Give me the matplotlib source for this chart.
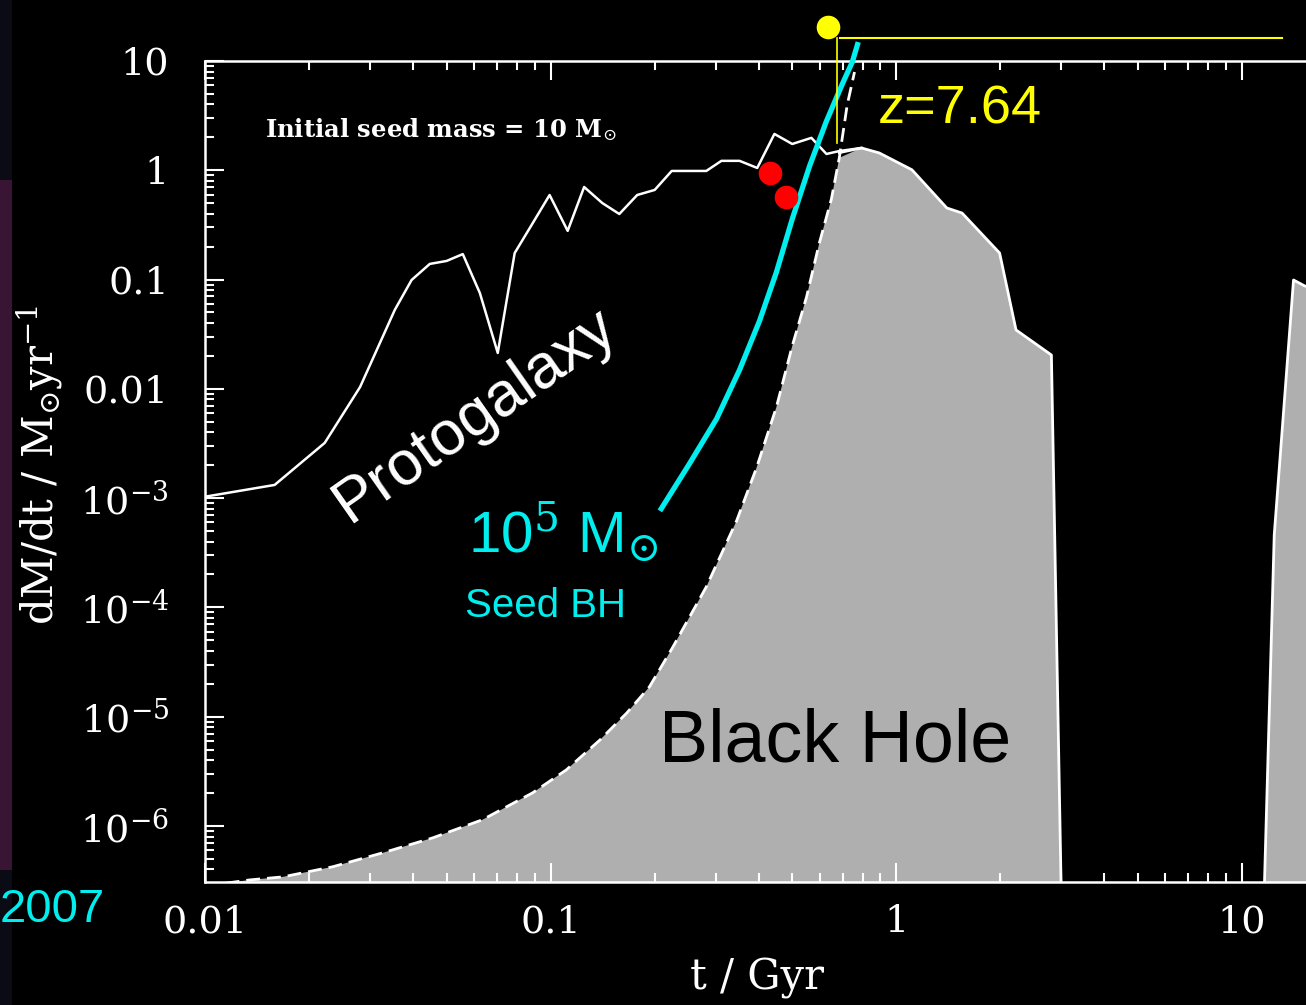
import numpy as np
import matplotlib.pyplot as plt
from matplotlib.ticker import FixedLocator, FixedFormatter, LogLocator, NullFormatter
from matplotlib.patches import Rectangle

plt.rcParams['mathtext.fontset'] = 'dejavuserif'

# protogalaxy accretion rate (white line), t in Gyr, rate in Msun/yr
gal_t = [0.0100, 0.0159, 0.0222, 0.0281, 0.0354, 0.0396, 0.0447, 0.0500, 0.0557, 0.0624,
         0.0703, 0.0787, 0.0881, 0.0993, 0.112, 0.125, 0.141, 0.158, 0.178, 0.200,
         0.224, 0.282, 0.312, 0.352, 0.396, 0.444, 0.500, 0.568, 0.628, 0.684, 0.793]
gal_rate = [1.03e-3, 1.32e-3, 3.20e-3, 0.0104, 0.0527, 0.0991, 0.139, 0.148, 0.171, 0.0753,
            0.0213, 0.175, 0.316, 0.594, 0.279, 0.703, 0.502, 0.398, 0.594, 0.661,
            0.986, 0.986, 1.22, 1.22, 1.05, 2.15, 1.74, 1.98, 1.41, 1.50, 1.60]

# Eddington-limited growth (dashed)
edd_t = [0.0100, 0.0135, 0.0168, 0.0234, 0.0327, 0.0456, 0.0635, 0.0887, 0.111, 0.139,
         0.166, 0.193, 0.225, 0.282, 0.345, 0.394, 0.450, 0.500, 0.550, 0.598,
         0.649, 0.684, 0.721, 0.757]
edd_rate = [2.82e-7, 3.21e-7, 3.42e-7, 4.23e-7, 5.68e-7, 7.78e-7, 1.14e-6, 2.01e-6, 3.26e-6, 6.14e-6,
            1.08e-5, 1.87e-5, 4.26e-5, 1.54e-4, 6.18e-4, 1.89e-3, 6.82e-3, 0.0247, 0.0693, 0.212,
            0.546, 1.30, 3.96, 7.93]

# black hole accretion rate after the Eddington phase (solid outline)
bh_t = [0.684, 0.793, 0.893, 1.11, 1.40, 1.55, 1.99, 2.22, 2.81, 3.00,
        11.6, 12.4, 14.1, 15.2, 20.0]
bh_rate = [1.45, 1.60, 1.44, 1.01, 0.452, 0.406, 0.175, 0.0346, 0.0204, 2.5e-7,
           2.5e-7, 4.60e-4, 0.0991, 0.0873, 0.070]

# 1e5 Msun seed BH track (cyan)
seed_t = [0.207, 0.252, 0.302, 0.352, 0.402, 0.450, 0.500, 0.561, 0.628, 0.698, 0.746, 0.776]
seed_rate = [7.64e-4, 2.06e-3, 5.31e-3, 0.0149, 0.0418, 0.117, 0.358, 1.09, 2.82, 6.16, 9.80, 14.9]

quasar_t = [0.430, 0.481]
quasar_rate = [0.945, 0.570]

z_t = 0.675
z_top = 16.2
z_bottom = 1.78
z_end = 13.1
dot_t, dot_rate = 0.633, 20.5

yticks = [1e-6, 1e-5, 1e-4, 1e-3, 0.01, 0.1, 1, 10]
ylabels = [r'$\mathregular{10^{-6}}$', r'$\mathregular{10^{-5}}$', r'$\mathregular{10^{-4}}$',
           r'$\mathregular{10^{-3}}$', '0.01', '0.1', '1', '10']
xticks = [0.01, 0.1, 1, 10]
xlabels = ['0.01', '0.1', '1', '10']

W, H = 1306, 1005


def fpos(x, y):
    return x / W, 1 - y / H


fig = plt.figure(figsize=(W / 100, H / 100), dpi=100, facecolor='black')

# strip of background picture on the left edge
fig.patches.append(Rectangle((0, 0), 12 / W, 1, transform=fig.transFigure,
                             facecolor='#0b0b16', edgecolor='none', zorder=0))
fig.patches.append(Rectangle((0, 1 - 870 / H), 12 / W, 690 / H, transform=fig.transFigure,
                             facecolor='#3a1433', edgecolor='none', zorder=0))

ax = fig.add_axes([205 / W, 1 - 882 / H, 1141 / W, 821 / H])
ax.set_facecolor('black')
ax.set_xscale('log')
ax.set_yscale('log')
ax.set_xlim(0.01, 20)
ax.set_ylim(3.07e-7, 10)

fill_t = np.concatenate([edd_t[:-2], bh_t[1:]])
fill_r = np.concatenate([edd_rate[:-2], bh_rate[1:]])
ax.fill_between(fill_t, fill_r, 1e-10, color='#afafaf', lw=0, zorder=1)

ax.plot(edd_t, edd_rate, color='white', lw=2.0, dashes=(5, 2.5), zorder=3)
ax.plot(bh_t, bh_rate, color='white', lw=2.0, zorder=3)
ax.plot(gal_t, gal_rate, color='white', lw=1.8, zorder=3)
ax.plot(seed_t, seed_rate, color='#00eeee', lw=3.8, zorder=4, clip_on=False,
        solid_capstyle='butt')
ax.plot(quasar_t, quasar_rate, 'o', color='red', ms=17, mec='none', zorder=5)

ax.plot([z_t, z_t], [z_bottom, z_top], color='yellow', lw=1.2, zorder=5, clip_on=False)
ax.plot([z_t * 1.015, z_end], [z_top, z_top], color='yellow', lw=1.5, zorder=5, clip_on=False)
ax.plot([dot_t], [dot_rate], 'o', color='yellow', ms=17, mec='none', zorder=5, clip_on=False)

for s in ax.spines.values():
    s.set_color('white')
    s.set_linewidth(1.8)

ax.xaxis.set_major_locator(FixedLocator(xticks))
ax.xaxis.set_major_formatter(FixedFormatter(xlabels))
ax.yaxis.set_major_locator(FixedLocator(yticks))
ax.yaxis.set_major_formatter(FixedFormatter(ylabels))
ax.xaxis.set_minor_locator(LogLocator(base=10, subs=np.arange(2, 10), numticks=20))
ax.yaxis.set_minor_locator(LogLocator(base=10, subs=np.arange(2, 10), numticks=20))
ax.xaxis.set_minor_formatter(NullFormatter())
ax.yaxis.set_minor_formatter(NullFormatter())
ax.tick_params(which='both', direction='in', color='white', width=1.5,
               top=True, right=True, labelcolor='white', labelsize=27.5)
ax.tick_params(which='major', length=14)
ax.tick_params(which='minor', length=6.5)
ax.tick_params(axis='y', pad=26)
ax.tick_params(axis='x', pad=16)
for lab in ax.get_xticklabels() + ax.get_yticklabels():
    lab.set_family('DejaVu Serif')

fig.text(*fpos(757, 978), 't / Gyr', color='white', fontsize=30, family='DejaVu Serif',
         ha='center', va='center')
fig.text(*fpos(40, 465), r'dM/dt / M$_{{\odot}}$yr$^{-1}$', color='white', fontsize=30,
         family='DejaVu Serif', rotation=90, ha='center', va='center')

fig.text(*fpos(265, 130), r'Initial seed mass = 10 M$_{{\odot}}$', color='white', fontsize=17.5,
         family='DejaVu Serif', weight='bold', ha='left', va='center')

sans = 'Liberation Sans'
fig.text(*fpos(475, 415), 'Protogalaxy', color='white', fontsize=45, family=sans,
         rotation=35, ha='center', va='center', rotation_mode='anchor')
fig.text(*fpos(468, 532), r'10$^5$ M$_{{\odot}}$', color='#00eeee', fontsize=42, family=sans,
         ha='left', va='center')
fig.text(*fpos(465, 606), 'Seed BH', color='#00eeee', fontsize=29, family=sans,
         ha='left', va='center')
fig.text(*fpos(835, 742), 'Black Hole', color='black', fontsize=53, family=sans,
         ha='center', va='center', zorder=10)
fig.text(*fpos(960, 110), 'z=7.64', color='yellow', fontsize=39, family=sans,
         ha='center', va='center')
fig.text(*fpos(0, 910), '2007', color='#00eeee', fontsize=34, family=sans,
         ha='left', va='center')

fig.savefig('out.png', dpi=100, facecolor='black')
